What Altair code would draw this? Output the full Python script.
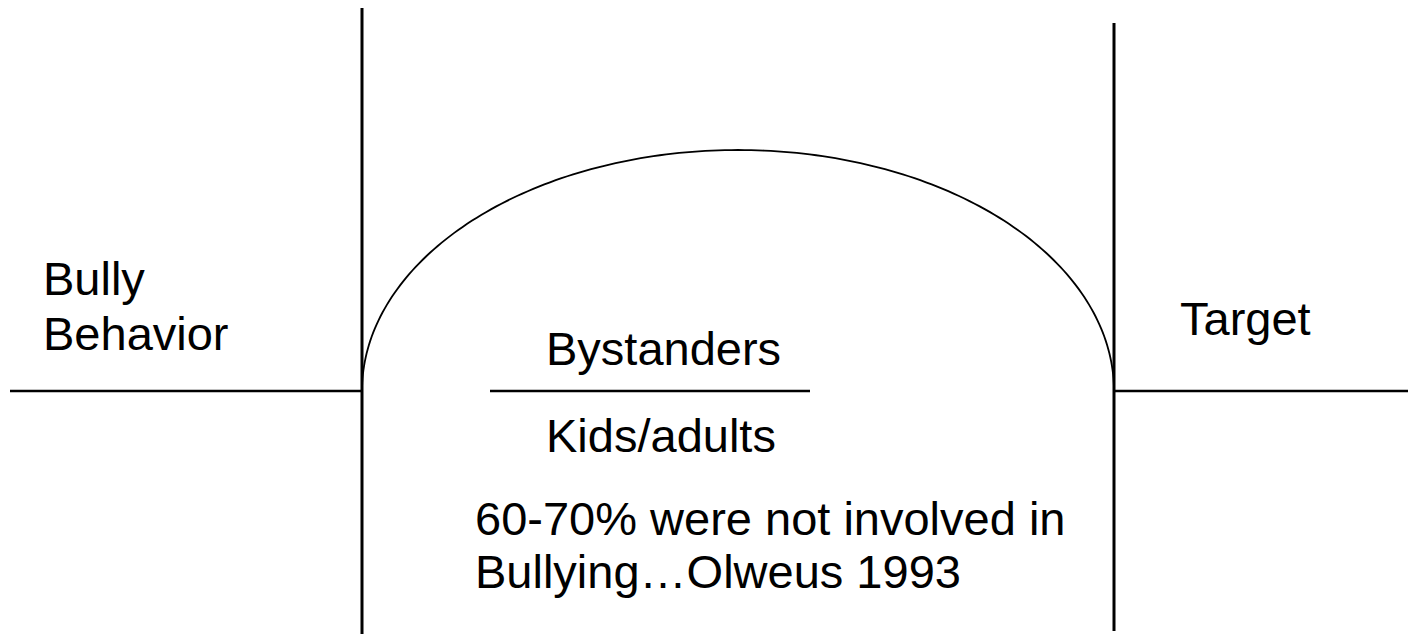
import altair as alt
import numpy as np
import pandas as pd

# Diagram content (coordinates in page pixels of the reference picture)
seg_x1 = [362, 1114, 10, 1114, 490]
seg_x2 = [362, 1114, 362, 1416, 810]
seg_y1 = [8, 23, 391, 391, 391]
seg_y2 = [642, 631, 391, 391, 391]
seg_w = [3, 3, 2.5, 2.5, 2.5]

labels = ["Bully", "Behavior", "Target", "Bystanders", "Kids/adults",
          "60-70% were not involved in", "Bullying\u2026Olweus 1993"]
label_x = [43, 43, 1180, 546, 546, 475, 475]
label_y = [295, 350, 335, 365, 452, 535, 588]

# Arch: half ellipse spanning between the two verticals
arch_left, arch_right, arch_base, arch_top = 362, 1114, 391, 150

W, H = 1400, 626
xs = alt.Scale(domain=[8, 8 + W], nice=False, zero=False)
ys = alt.Scale(domain=[8, 8 + H], nice=False, zero=False, reverse=True)

segs = pd.DataFrame({"x": seg_x1, "x2": seg_x2, "y": seg_y1, "y2": seg_y2, "w": seg_w})
t = np.linspace(np.pi, 0, 181)
cx = (arch_left + arch_right) / 2
rx = (arch_right - arch_left) / 2
ry = arch_base - arch_top
arch = pd.DataFrame({"x": cx + rx * np.cos(t), "y": arch_base - ry * np.sin(t), "i": np.arange(len(t))})
txt = pd.DataFrame({"x": label_x, "y": label_y, "t": labels})

rules = alt.Chart(segs).mark_rule(color="black", strokeCap="butt").encode(
    x=alt.X("x:Q", scale=xs, axis=None),
    x2="x2:Q",
    y=alt.Y("y:Q", scale=ys, axis=None),
    y2="y2:Q",
    strokeWidth=alt.StrokeWidth("w:Q", scale=None, legend=None),
)

arc = alt.Chart(arch).mark_line(color="black", strokeWidth=1.8).encode(
    x=alt.X("x:Q", scale=xs, axis=None),
    y=alt.Y("y:Q", scale=ys, axis=None),
    order="i:Q",
)

text = alt.Chart(txt).mark_text(
    align="left", baseline="alphabetic", font="Liberation Sans", fontSize=47, color="black"
).encode(
    x=alt.X("x:Q", scale=xs, axis=None),
    y=alt.Y("y:Q", scale=ys, axis=None),
    text="t:N",
)

chart = alt.layer(rules, arc, text).properties(
    width=W, height=H, padding=0, autosize=alt.AutoSizeParams(type="none"), background="white"
).configure_view(stroke=None)

chart.save("out.html", embed_options={"renderer": "svg", "actions": False})
